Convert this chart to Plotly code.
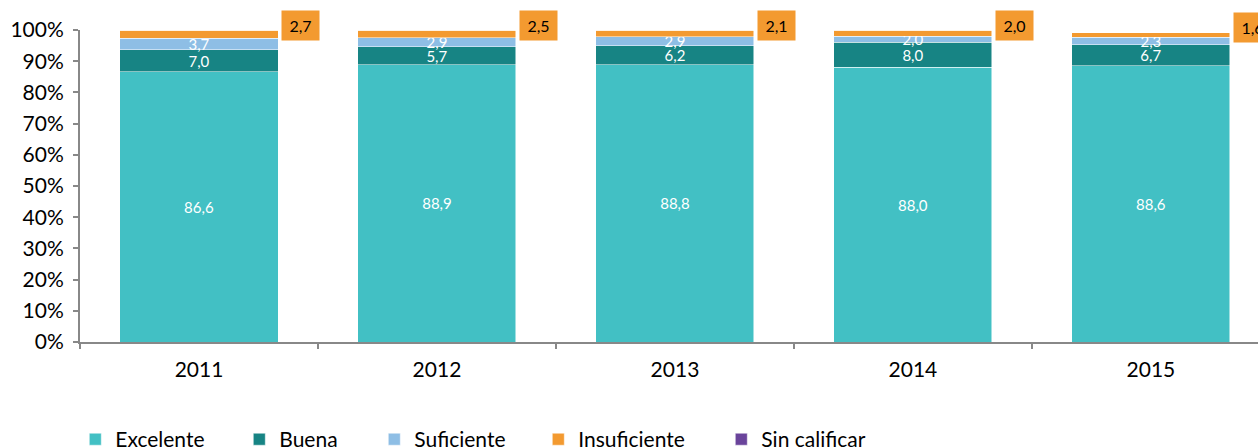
import plotly.graph_objects as go

years = ["2011", "2012", "2013", "2014", "2015"]
excelente = [86.6, 88.9, 88.8, 88.0, 88.6]
buena = [7.0, 5.7, 6.2, 8.0, 6.7]
suficiente = [3.7, 2.9, 2.9, 2.0, 2.3]
insuficiente = [2.7, 2.5, 2.1, 2.0, 1.6]
sin_calificar = [0, 0, 0, 0, 0]
y_ticks = list(range(0, 101, 10))
y_tick_labels = [f"{t}%" for t in y_ticks]


def fmt(v):
    return f"{v:.1f}".replace(".", ",")


# name, values, colour, label inside bar, legend entry width
series = [
    ("Excelente", excelente, "#42C0C4", True, 119),
    ("Buena", buena, "#178484", True, 90),
    ("Suficiente", suficiente, "#8EBEE5", True, 119),
    ("Insuficiente", insuficiente, "#F39A30", False, 138),
    ("Sin calificar", sin_calificar, "#6A449B", False, None),
]

fig = go.Figure()
for name, vals, color, show_text, lw in series:
    fig.add_trace(go.Bar(
        x=years,
        y=vals,
        name=name,
        marker=dict(color=color, line=dict(color="white", width=0.5)),
        text=[fmt(v) for v in vals] if show_text else None,
        textposition="inside" if show_text else "none",
        insidetextanchor="middle",
        constraintext="none",
        textangle=0,
        textfont=dict(color="white", size=15, family="Lato"),
        legendwidth=lw,
        hoverinfo="skip",
    ))

# orange value boxes for Insuficiente, next to the top of each bar
# (category index for x; rounded top so float sums don't fall off the axis)
tops = [round(sum(v), 1) for v in zip(excelente, buena, suficiente, insuficiente, sin_calificar)]
for i, (top, v) in enumerate(zip(tops, insuficiente)):
    fig.add_annotation(
        x=i, y=min(top, 100), xref="x", yref="y",
        text=fmt(v), showarrow=False,
        xanchor="left", yanchor="middle",
        xshift=82, yshift=5,
        width=37, height=29, borderpad=0,
        bgcolor="#F39A30",
        font=dict(size=16, color="black", family="Lato"),
    )

axis_grey = "#888888"
fig.update_layout(
    barmode="stack",
    bargap=0.336,
    width=1258,
    height=448,
    margin=dict(l=80, r=0, t=30, b=106, autoexpand=False),
    plot_bgcolor="white",
    paper_bgcolor="white",
    font=dict(family="Lato", size=21, color="black"),
    showlegend=True,
    legend=dict(
        orientation="h",
        traceorder="normal",
        x=-0.004, xanchor="left",
        y=-0.247, yanchor="top",
        font=dict(size=21, color="black"),
        itemclick=False,
    ),
    xaxis=dict(
        type="category",
        range=[-0.5, 4.45],
        showline=True, linecolor=axis_grey, linewidth=2,
        ticks="outside", tickson="boundaries", ticklen=5, tickcolor=axis_grey, tickwidth=2,
        ticklabelstandoff=8,
        showgrid=False, zeroline=False,
        tickfont=dict(size=21, color="black"),
    ),
    yaxis=dict(
        range=[0, 100],
        tickmode="array",
        tickvals=y_ticks,
        ticktext=y_tick_labels,
        showline=True, linecolor=axis_grey, linewidth=2,
        ticks="outside", ticklen=5, tickcolor=axis_grey, tickwidth=2,
        ticklabelstandoff=5,
        showgrid=False, zeroline=False,
        tickfont=dict(size=21, color="black"),
    ),
)

fig.write_html("out.html", config={"displayModeBar": False},
               post_script="document.body.style.margin='0';")
